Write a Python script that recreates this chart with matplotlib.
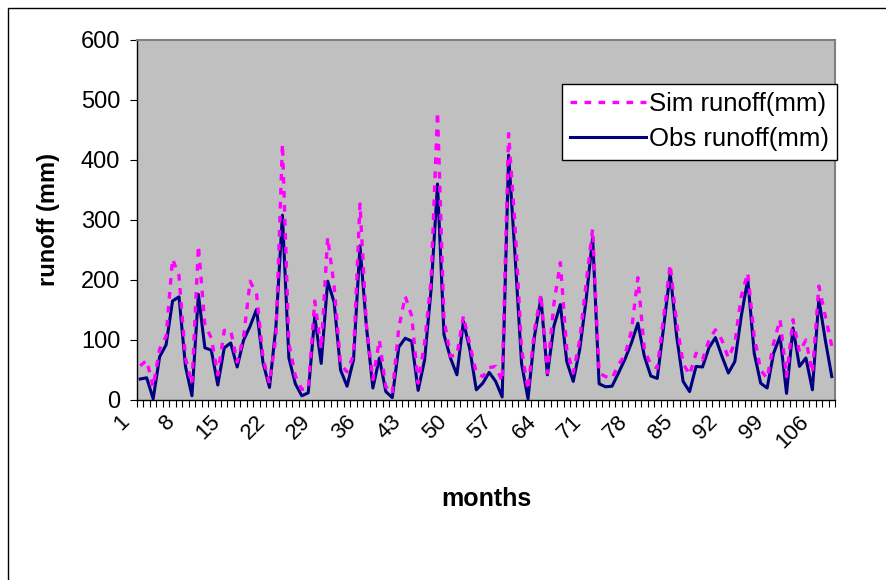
import numpy as np
import matplotlib
matplotlib.use('Agg')
import matplotlib.pyplot as plt
import matplotlib.transforms as mtransforms
from matplotlib.patches import Rectangle

plt.rcParams['font.family'] = ['Liberation Sans', 'DejaVu Sans']

# monthly runoff (mm), months 1..108
obs = [35, 37, 2, 72, 92, 165, 172, 56, 7, 176,
       87, 83, 25, 87, 95, 55, 100, 123, 151, 62,
       21, 123, 308, 70, 27, 7, 12, 139, 61, 198,
       163, 50, 23, 67, 257, 122, 20, 70, 14, 4,
       88, 103, 98, 16, 67, 184, 360, 109, 70, 42,
       131, 84, 17, 28, 46, 31, 5, 408, 240, 61,
       2, 106, 170, 42, 123, 159, 64, 31, 84, 168,
       271, 27, 22, 23, 45, 68, 95, 128, 73, 40,
       36, 123, 212, 106, 31, 14, 56, 55, 87, 104,
       73, 45, 64, 140, 201, 78, 28, 20, 78, 106,
       11, 120, 56, 70, 17, 168, 100, 39]
sim = [57, 66, 22, 85, 106, 235, 207, 70, 27, 257,
       126, 103, 42, 116, 116, 63, 106, 198, 176, 70,
       28, 106, 427, 95, 40, 18, 18, 165, 85, 271,
       190, 59, 47, 75, 327, 125, 34, 100, 22, 11,
       120, 173, 140, 28, 95, 200, 480, 135, 73, 75,
       140, 92, 45, 39, 54, 56, 31, 444, 290, 85,
       17, 117, 176, 45, 160, 229, 84, 45, 100, 196,
       285, 45, 39, 36, 59, 75, 115, 204, 84, 59,
       53, 140, 226, 128, 61, 42, 78, 67, 100, 117,
       100, 70, 95, 173, 212, 106, 50, 36, 95, 134,
       39, 134, 80, 100, 45, 190, 140, 90]
months = np.arange(1, len(obs) + 1)
tick_labels = list(range(1, 107, 7))

fig = plt.figure(figsize=(8.86, 5.80), dpi=100)
fig.patch.set_facecolor('white')
fig.add_artist(Rectangle((8 / 886, -0.05), 1.2, 1 - 8 / 580 + 0.05,
                         transform=fig.transFigure, fill=False,
                         edgecolor='black', lw=1))

ax = fig.add_axes([137 / 886, 1 - 400 / 580, 698 / 886, 360 / 580])
ax.set_facecolor('#C0C0C0')

ax.plot(months, obs, color='#000080', lw=2.2, label='Obs runoff(mm)', zorder=2)
ax.plot(months, sim, color='#FF00FF', lw=2.4, dashes=(2.0, 2.2),
        label='Sim runoff(mm)', zorder=3)

ax.set_xlim(0.5, len(obs) + 0.5)
ax.set_ylim(0, 600)
ax.set_yticks(range(0, 601, 100))
ax.set_xticks(np.arange(0.5, len(obs) + 1, 1), minor=True)
ax.set_xticks(tick_labels)
ax.set_xticklabels([str(t) for t in tick_labels], rotation=45,
                   ha='right', va='top', rotation_mode='anchor')
ax.tick_params(axis='x', which='major', length=0, pad=8, labelsize=16)
ax.tick_params(axis='x', which='minor', length=5, width=0.8, direction='out')
ax.tick_params(axis='y', length=5, width=0.8, pad=7, labelsize=17)

shift = mtransforms.ScaledTranslation(-0.21, 0, fig.dpi_scale_trans)
for lab in ax.get_xticklabels():
    lab.set_transform(lab.get_transform() + shift)

for s in ['top', 'right']:
    ax.spines[s].set_color('#808080')
    ax.spines[s].set_linewidth(1.5)
for s in ['left', 'bottom']:
    ax.spines[s].set_color('black')
    ax.spines[s].set_linewidth(1)

ax.set_xlabel('months', fontsize=18, fontweight='bold', labelpad=25)
ax.set_ylabel('runoff (mm)', fontsize=17, fontweight='bold', labelpad=15)

h, l = ax.get_legend_handles_labels()
leg = ax.legend(h[::-1], l[::-1], loc='upper right',
                bbox_to_anchor=(837 / 886, 1 - 84 / 580),
                bbox_transform=fig.transFigure, fontsize=18.5,
                frameon=True, fancybox=False, edgecolor='black',
                framealpha=1, handlelength=2.95, handletextpad=0.1,
                borderpad=0.33, labelspacing=0.42, borderaxespad=0)
leg.get_frame().set_linewidth(1)

fig.savefig('out.png', dpi=100)
